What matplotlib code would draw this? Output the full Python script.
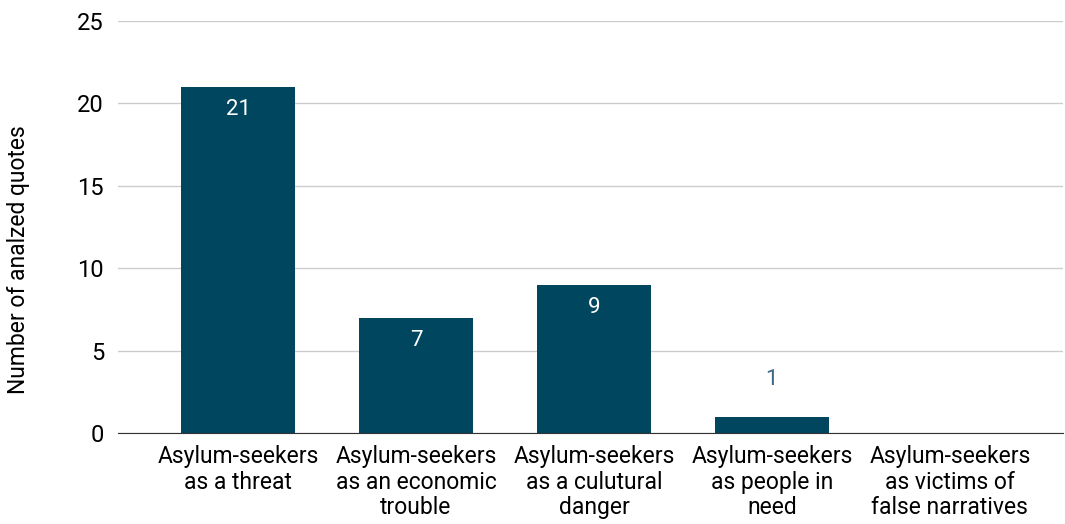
import numpy as np
import matplotlib.pyplot as plt

categories = [
    "Asylum-seekers\nas a threat",
    "Asylum-seekers\nas an economic\ntrouble",
    "Asylum-seekers\nas a culutural\ndanger",
    "Asylum-seekers\nas people in\nneed",
    "Asylum-seekers\nas victims of\nfalse narratives",
]
counts = [21, 7, 9, 1, 0]
yticks = [0, 5, 10, 15, 20, 25]

bar_color = "#01465f"
plt.rcParams['font.family'] = ['Roboto', 'DejaVu Sans']

fig = plt.figure(figsize=(10.65, 5.24), dpi=100)
ax = fig.add_axes([0.1108, 0.1737, 0.8872, 0.7863])

x = np.arange(len(categories))
bars = ax.bar(x, counts, width=0.64, color=bar_color, zorder=3)

for xi, v in zip(x, counts):
    if v == 0:
        continue
    if v >= 5:
        ax.annotate(str(v), (xi, v), xytext=(0, -16.5), textcoords="offset points",
                    ha="center", va="center", color="white", fontsize=16, zorder=4)
    else:
        ax.annotate(str(v), (xi, v), xytext=(0, 27), textcoords="offset points",
                    ha="center", va="center", color="#3e6a85", fontsize=16, zorder=4)

ax.set_xlim(-0.675, 4.635)
ax.set_ylim(0, 25)
ax.set_yticks(yticks)
ax.set_xticks(x)
ax.set_xticklabels(categories, fontsize=16.5, linespacing=1.12)
ax.tick_params(axis="y", labelsize=17, length=0, pad=10)
ax.tick_params(axis="x", length=0, pad=9)
ax.grid(axis="y", color="#cccccc", linewidth=1, zorder=0)
for s in ["top", "right", "left"]:
    ax.spines[s].set_visible(False)
ax.spines["bottom"].set_color("#333333")
ax.spines["bottom"].set_zorder(5)
ax.set_ylabel("Number of analzed quotes", fontsize=16.5)
ax.yaxis.set_label_coords(-0.093, 0.42)

fig.savefig("out.png", dpi=100)
